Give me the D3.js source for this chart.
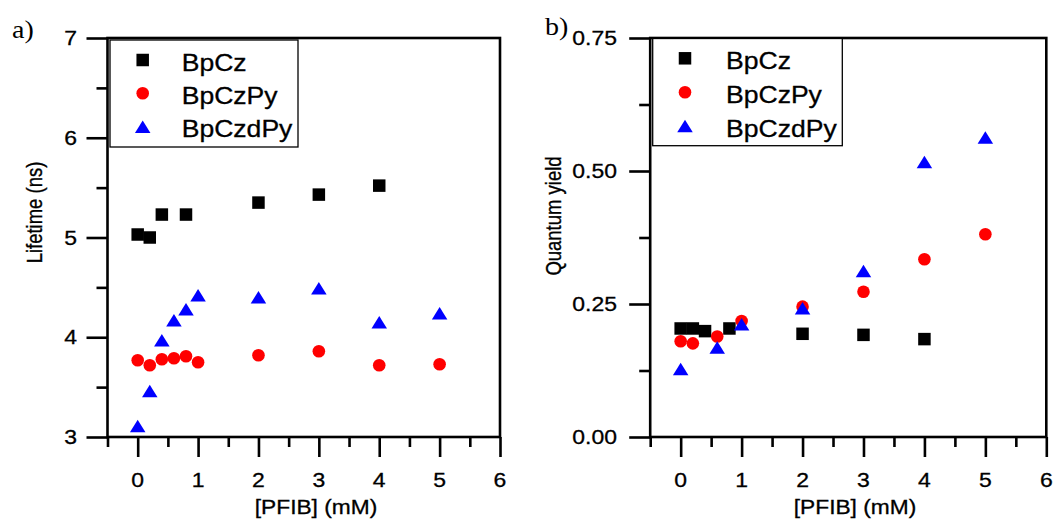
<!DOCTYPE html>
<html>
<head>
<meta charset="utf-8">
<script src="https://cdn.jsdelivr.net/npm/d3@7/dist/d3.min.js"></script>
<style>
  html, body { margin: 0; padding: 0; background: #fff; }
  svg { display: block; }
  text { font-family: "Liberation Sans", Arial, sans-serif; fill: #000; stroke: #000; stroke-width: 0.3px; }
</style>
</head>
<body>
<svg id="chart" width="1053" height="520"></svg>
<script>
// ---------- data ----------
const seriesNames = ["BpCz", "BpCzPy", "BpCzdPy"];
const seriesColors = ["#000000", "#ff0000", "#0000ff"];

const xMajorTicks = [0, 1, 2, 3, 4, 5, 6];
const xMinorTicks = [-0.5, 0.5, 1.5, 2.5, 3.5, 4.5, 5.5];

const yTicksA = [3, 4, 5, 6, 7];
const yMinorA = [3.5, 4.5, 5.5, 6.5];
const yTicksB = [0, 0.25, 0.5, 0.75];
const yMinorB = [0.125, 0.375, 0.625];

// panel a) lifetime (ns)
const concA_BpCz    = [0, 0.2, 0.4, 0.8, 2, 3, 4];
const lifeA_BpCz    = [5.03, 5.00, 5.23, 5.23, 5.35, 5.43, 5.52];
const concA_BpCzPy  = [0, 0.2, 0.4, 0.6, 0.8, 1, 2, 3, 4, 5];
const lifeA_BpCzPy  = [3.77, 3.72, 3.78, 3.79, 3.81, 3.75, 3.82, 3.86, 3.72, 3.73];
const concA_BpCzdPy = [0, 0.2, 0.4, 0.6, 0.8, 1, 2, 3, 4, 5];
const lifeA_BpCzdPy = [3.11, 3.46, 3.97, 4.17, 4.28, 4.42, 4.40, 4.49, 4.15, 4.24];

// panel b) quantum yield
const concB_BpCz    = [0, 0.2, 0.4, 0.8, 2, 3, 4];
const qyB_BpCz      = [0.204, 0.204, 0.199, 0.204, 0.194, 0.192, 0.184];
const concB_BpCzPy  = [0, 0.2, 0.6, 1, 2, 3, 4, 5];
const qyB_BpCzPy    = [0.180, 0.176, 0.189, 0.218, 0.245, 0.273, 0.334, 0.381];
const concB_BpCzdPy = [0, 0.6, 1, 2, 3, 4, 5];
const qyB_BpCzdPy   = [0.128, 0.168, 0.212, 0.242, 0.312, 0.517, 0.563];

// ---------- drawing ----------
const svg = d3.select("#chart");

function stretchedText(g, x, y, str, opts) {
  const t = g.append("text")
    .attr("transform", `translate(${x},${y}) scale(${opts.sx},1)` + (opts.rotate ? ` rotate(${opts.rotate})` : ""))
    .attr("text-anchor", opts.anchor || "start")
    .style("font-size", opts.size + "px")
    .text(str);
  if (opts.family) t.style("font-family", opts.family);
  if (opts.noStroke) t.style("stroke", "none");
  return t;
}

function symbolPath(kind) {
  if (kind === 0) { const s = 12.5; return `M${-s/2},${-s/2}h${s}v${s}h${-s}Z`; }
  if (kind === 1) { const r = 6.3; return `M${r},0A${r},${r} 0 1,1 ${-r},0A${r},${r} 0 1,1 ${r},0Z`; }
  const w = 15.5, h = 12.5; return `M0,${-h/2}L${w/2},${h/2}L${-w/2},${h/2}Z`;
}

function drawPanel(cfg) {
  const g = svg.append("g");
  const x = d3.scaleLinear().domain([-0.5, 6]).range(cfg.xRange);
  const y = d3.scaleLinear().domain(cfg.yDomain).range([437, 38]);
  const L = cfg.xRange[0], R = cfg.xRange[1], T = 38, B = 437;

  const axB = d3.axisBottom(x).tickValues(xMajorTicks).tickSize(20).tickFormat("");
  const axBm = d3.axisBottom(x).tickValues(xMinorTicks).tickSize(10).tickFormat("");
  const axL = d3.axisLeft(y).tickValues(cfg.yTicks).tickSize(21).tickFormat("");
  const axLm = d3.axisLeft(y).tickValues(cfg.yMinor).tickSize(11).tickFormat("");
  [[axB, `translate(0,${B})`], [axBm, `translate(0,${B})`], [axL, `translate(${L},0)`], [axLm, `translate(${L},0)`]]
    .forEach(([ax, tr]) => {
      const a = g.append("g").attr("transform", tr).call(ax);
      a.select(".domain").remove();
      a.selectAll("line").attr("stroke", "#000").attr("stroke-width", 2.6);
    });

  g.append("rect").attr("x", L).attr("y", T).attr("width", R - L).attr("height", B - T)
    .attr("fill", "none").attr("stroke", "#000").attr("stroke-width", 2.6);

  xMajorTicks.forEach(v => stretchedText(g, x(v), 487, String(v), { anchor: "middle", size: 20.5, sx: 1.12 }));
  cfg.yTicks.forEach(v => stretchedText(g, cfg.yLabelRight, y(v) + 7, cfg.yFmt(v), { anchor: "end", size: 20.5, sx: 1.12 }));

  stretchedText(g, cfg.xTitleX, 514, "[PFIB] (mM)", { anchor: "middle", size: 20.3, sx: 1.12 });
  stretchedText(g, cfg.yTitleX, cfg.yTitleY, cfg.yTitle, { anchor: "middle", size: 18.5, sx: 1.2, rotate: -90 });

  stretchedText(g, cfg.letterX, cfg.letterY, cfg.letter, { size: 25, sx: 1.12, noStroke: true, family: "'Liberation Serif', 'Times New Roman', serif" });

  cfg.series.forEach((s, i) => {
    g.append("g").selectAll("path").data(s.xs.map((v, j) => [v, s.ys[j]])).join("path")
      .attr("d", symbolPath(i))
      .attr("transform", d => `translate(${x(d[0])},${y(d[1])})`)
      .attr("fill", seriesColors[i]);
  });

  const lg = cfg.legend;
  g.append("rect").attr("x", lg.x0).attr("y", lg.y0).attr("width", lg.x1 - lg.x0).attr("height", lg.y1 - lg.y0)
    .attr("fill", "#fff").attr("stroke", "#000").attr("stroke-width", 1.3);
  seriesNames.forEach((name, i) => {
    const yy = lg.rows[i];
    g.append("path").attr("d", symbolPath(i)).attr("transform", `translate(${lg.symX},${yy})`).attr("fill", seriesColors[i]);
    stretchedText(g, lg.textX, yy + 10.5, name, { size: 23.3, sx: 1.14 });
  });
}

drawPanel({
  xRange: [107.5, 500],
  yDomain: [3, 7],
  yTicks: yTicksA, yMinor: yMinorA,
  yFmt: d3.format("d"),
  yLabelRight: 77,
  xTitleX: 316,
  yTitle: "Lifetime (ns)", yTitleX: 42, yTitleY: 212.5,
  letter: "a)", letterX: 12, letterY: 38,
  series: [
    { xs: concA_BpCz, ys: lifeA_BpCz },
    { xs: concA_BpCzPy, ys: lifeA_BpCzPy },
    { xs: concA_BpCzdPy, ys: lifeA_BpCzdPy }
  ],
  legend: { x0: 110, y0: 40, x1: 298, y1: 147, symX: 142.7, textX: 181.7, rows: [60, 93.3, 126.7] }
});

drawPanel({
  xRange: [650.2, 1046.3],
  yDomain: [0, 0.75],
  yTicks: yTicksB, yMinor: yMinorB,
  yFmt: d3.format(".2f"),
  yLabelRight: 617,
  xTitleX: 855,
  yTitle: "Quantum yield", yTitleX: 561, yTitleY: 216,
  letter: "b)", letterX: 545, letterY: 35,
  series: [
    { xs: concB_BpCz, ys: qyB_BpCz },
    { xs: concB_BpCzPy, ys: qyB_BpCzPy },
    { xs: concB_BpCzdPy, ys: qyB_BpCzdPy }
  ],
  legend: { x0: 652.7, y0: 38.5, x1: 842.3, y1: 145.7, symX: 685, textX: 726, rows: [58.3, 92.3, 126] }
});
</script>
</body>
</html>
